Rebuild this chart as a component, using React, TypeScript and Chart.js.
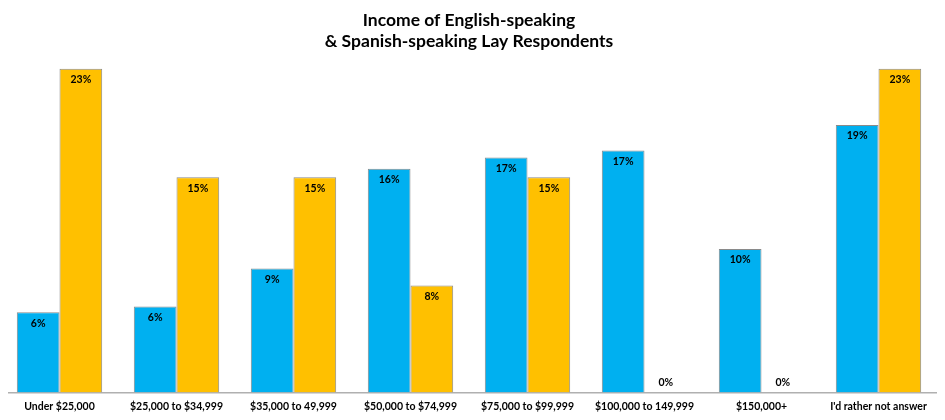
import React, { useEffect, useRef } from "react";
import { Chart, registerables } from "chart.js";

Chart.register(...registerables);

const titleLines = ["Income of English-speaking", "& Spanish-speaking Lay Respondents"];
const categories = [
  "Under $25,000",
  "$25,000 to $34,999",
  "$35,000 to 49,999",
  "$50,000 to $74,999",
  "$75,000 to $99,999",
  "$100,000 to 149,999",
  "$150,000+",
  "I'd rather not answer",
];
const englishValues = [5.7, 6.1, 8.8, 15.9, 16.7, 17.2, 10.2, 19.0];
const spanishValues = [23.0, 15.3, 15.3, 7.6, 15.3, 0, 0, 23.0];
const seriesNames = ["English-speaking", "Spanish-speaking"];

const FONT = "Lato, 'Open Sans', sans-serif";

const labelPlugin = {
  id: "barLabels",
  afterDatasetsDraw(chart: any) {
    const ctx = chart.ctx;
    ctx.save();
    ctx.font = `bold 10.5px ${FONT}`;
    ctx.fillStyle = "#000";
    ctx.textAlign = "center";
    ctx.textBaseline = "middle";
    chart.data.datasets.forEach((ds: any, di: number) => {
      const meta = chart.getDatasetMeta(di);
      meta.data.forEach((bar: any, i: number) => {
        const v = ds.data[i];
        const txt = Math.round(v) + "%";
        const y = v > 0 ? bar.y + 11 : bar.y - 10;
        ctx.fillText(txt, bar.x, y);
      });
    });
    ctx.restore();
  },
};

export default function App() {
  const ref = useRef<HTMLCanvasElement | null>(null);
  useEffect(() => {
    if (!ref.current) return;
    const chart = new Chart(ref.current, {
      type: "bar",
      data: {
        labels: categories,
        datasets: [
          {
            label: seriesNames[0],
            data: englishValues,
            backgroundColor: "#00B0F0",
            borderColor: "#8a8a8a",
            borderWidth: 1,
            categoryPercentage: 0.73,
            barPercentage: 1,
          },
          {
            label: seriesNames[1],
            data: spanishValues,
            backgroundColor: "#FFC000",
            borderColor: "#8a8a8a",
            borderWidth: 1,
            categoryPercentage: 0.73,
            barPercentage: 1,
          },
        ],
      },
      options: {
        animation: false,
        responsive: true,
        maintainAspectRatio: false,
        layout: { padding: { left: 1, right: 8, top: 0, bottom: 0 } },
        plugins: {
          legend: { display: false },
          tooltip: { enabled: false },
          title: {
            display: true,
            text: titleLines,
            color: "#000",
            font: { family: FONT, size: 17.5, weight: "bold", lineHeight: 1.25 },
            padding: { top: 9, bottom: 2 },
          },
        },
        scales: {
          x: {
            grid: { display: false, drawTicks: false },
            border: { display: true, color: "#b0b0b0", width: 1.5 },
            ticks: {
              color: "#000",
              font: { family: FONT, size: 10.5, weight: "bold" },
              padding: 8,
              maxRotation: 0,
              autoSkip: false,
            },
          },
          y: {
            display: false,
            min: 0,
            max: 24,
          },
        },
      },
      plugins: [labelPlugin],
    });
    return () => chart.destroy();
  }, []);
  return (
    <div style={{ margin: -8, width: 945, height: 421, position: "relative" }}>
      <canvas ref={ref} />
    </div>
  );
}
